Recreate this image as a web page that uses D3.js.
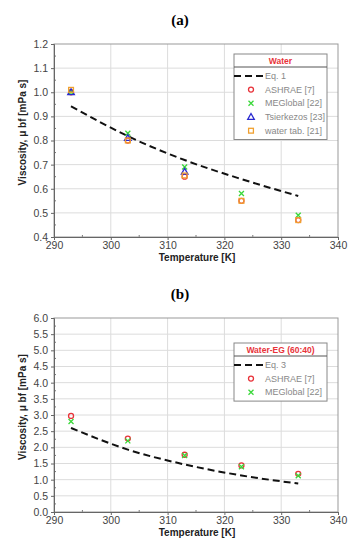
<!DOCTYPE html>
<html>
<head>
<meta charset="utf-8">
<script src="https://cdn.jsdelivr.net/npm/d3@7"></script>
<style>
  body { margin: 0; background: #fff; }
  svg { display: block; }
  .tick text { font-family: Arial, "Liberation Sans", sans-serif; font-size: 10.5px; fill: #444; }
</style>
</head>
<body>
<div id="chart"></div>
<script>
const temps = [293, 303, 313, 323, 333];

// (a) water
const waterEq1 = [0.942, 0.818, 0.719, 0.640, 0.570];
const waterAshrae = [1.00, 0.80, 0.65, 0.55, 0.47];
const waterMeg = [1.00, 0.83, 0.69, 0.58, 0.49];
const waterTsier = [1.00, 0.81, 0.67];
const waterTab = [1.01, 0.80, 0.655, 0.55, 0.47];

// (b) water-EG 60:40
const egEq3 = [2.60, 1.93, 1.47, 1.13, 0.88];
const egAshrae = [2.97, 2.27, 1.77, 1.44, 1.18];
const egMeg = [2.80, 2.20, 1.75, 1.40, 1.12];

const xTicks = [290, 300, 310, 320, 330, 340];
const yTicksA = [0.4, 0.5, 0.6, 0.7, 0.8, 0.9, 1.0, 1.1, 1.2];
const yTicksB = [0, 0.5, 1, 1.5, 2, 2.5, 3, 3.5, 4, 4.5, 5, 5.5, 6];

const W = 358, H = 550;
const svg = d3.select("#chart").append("svg")
    .attr("width", W)
    .attr("height", H);

const red = "#e8333a", green = "#3ad83a", blue = "#2a2ad0", orange = "#f0a030";

function drawPanel(opt) {
    const x = d3.scaleLinear().domain([290, 340]).range([54, 338]);
    const y = d3.scaleLinear().domain(opt.yDomain).range([opt.bottom, opt.top]);
    const g = svg.append("g");

    // panel label
    g.append("text")
        .attr("x", 180).attr("y", opt.top - 19)
        .attr("text-anchor", "middle")
        .style("font-family", "'Liberation Serif', 'Times New Roman', serif")
        .style("font-weight", "bold")
        .style("font-size", "15px")
        .text(opt.label);

    // grid
    g.append("g").selectAll("line").data(xTicks.slice(1, -1)).enter().append("line")
        .attr("x1", d => x(d)).attr("x2", d => x(d))
        .attr("y1", opt.top).attr("y2", opt.bottom)
        .attr("stroke", "#dcdcdc");
    g.append("g").selectAll("line").data(opt.yTicks.slice(1, -1)).enter().append("line")
        .attr("x1", 54).attr("x2", 338)
        .attr("y1", d => y(d)).attr("y2", d => y(d))
        .attr("stroke", "#dcdcdc");

    // minor ticks (inward)
    const xMinor = d3.range(295, 340, 10);
    g.append("g").selectAll("line").data(xMinor).enter().append("line")
        .attr("x1", d => x(d)).attr("x2", d => x(d))
        .attr("y1", opt.bottom).attr("y2", opt.bottom - 2)
        .attr("stroke", "#777");
    g.append("g").selectAll("line").data(opt.yMinor).enter().append("line")
        .attr("x1", 54).attr("x2", 56)
        .attr("y1", d => y(d)).attr("y2", d => y(d))
        .attr("stroke", "#777");

    // frame
    g.append("rect")
        .attr("x", 54).attr("y", opt.top)
        .attr("width", 284).attr("height", opt.bottom - opt.top)
        .attr("fill", "none").attr("stroke", "#999");

    const xAxis = g.append("g")
        .attr("transform", `translate(0,${opt.bottom})`)
        .call(d3.axisBottom(x).tickValues(xTicks).tickSize(3).tickPadding(2).tickFormat(d3.format("d")));
    const yAxis = g.append("g")
        .attr("transform", "translate(54,0)")
        .call(d3.axisLeft(y).tickValues(opt.yTicks).tickSize(3).tickPadding(3).tickFormat(d3.format(".1f")));
    [xAxis, yAxis].forEach(a => {
        a.select(".domain").attr("stroke", "#666");
        a.selectAll(".tick line").attr("stroke", "#666");
    });

    // axis titles
    g.append("text")
        .attr("x", 197).attr("y", opt.bottom + 24)
        .attr("text-anchor", "middle")
        .style("font-family", "Arial, 'Liberation Sans', sans-serif")
        .style("font-weight", "bold").style("font-size", "10px").attr("fill", "#222")
        .text("Temperature [K]");
    g.append("text")
        .attr("transform", `translate(26,${(opt.top + opt.bottom) / 2 - 8}) rotate(-90)`)
        .attr("text-anchor", "middle")
        .style("font-family", "Arial, 'Liberation Sans', sans-serif")
        .style("font-weight", "bold").style("font-size", "10px").attr("fill", "#222")
        .text("Viscosity, μ bf [mPa s]");

    // equation line
    const line = d3.line().x((d, i) => x(temps[i])).y(d => y(d)).curve(d3.curveMonotoneX);
    g.append("path")
        .attr("d", line(opt.eq))
        .attr("fill", "none").attr("stroke", "#111")
        .attr("stroke-width", 2).attr("stroke-dasharray", "7,4");

    // markers
    opt.series.forEach(s => {
        const pts = g.append("g");
        s.values.forEach((v, i) => {
            drawMarker(pts, s.shape, s.color, x(temps[i]), y(v));
        });
    });

    // legend
    const lx = 234, ly = opt.legendTop, lw = 93, rowH = 13.7;
    const lh = 13 + rowH * (opt.series.length + 1) + 4;
    const leg = g.append("g");
    leg.append("rect")
        .attr("x", lx).attr("y", ly).attr("width", lw).attr("height", lh)
        .attr("fill", "#fff").attr("stroke", "#888");
    leg.append("line")
        .attr("x1", lx).attr("x2", lx + lw)
        .attr("y1", ly + 13).attr("y2", ly + 13)
        .attr("stroke", "#555");
    leg.append("text")
        .attr("x", lx + lw / 2).attr("y", ly + 9.5)
        .attr("text-anchor", "middle")
        .style("font-family", "Arial, 'Liberation Sans', sans-serif")
        .style("font-weight", "bold").style("font-size", "8.5px").attr("fill", red)
        .text(opt.legendTitle);
    const items = [{ name: opt.eqName, shape: "dash" }].concat(opt.series);
    items.forEach((it, i) => {
        const cy = ly + 13 + rowH * (i + 0.65);
        if (it.shape === "dash") {
            leg.append("line")
                .attr("x1", lx).attr("x2", lx + 29)
                .attr("y1", cy).attr("y2", cy)
                .attr("stroke", "#111").attr("stroke-width", 2).attr("stroke-dasharray", "7,4");
        } else {
            drawMarker(leg, it.shape, it.color, lx + 17, cy);
        }
        leg.append("text")
            .attr("x", lx + 31).attr("y", cy + 3)
            .style("font-family", "Arial, 'Liberation Sans', sans-serif")
            .style("font-size", "9px").attr("fill", "#888")
            .text(it.name);
    });
}

function drawMarker(sel, shape, color, cx, cy) {
    if (shape === "circle") {
        sel.append("circle").attr("cx", cx).attr("cy", cy).attr("r", 2.5)
            .attr("fill", "none").attr("stroke", color).attr("stroke-width", 1.3);
    } else if (shape === "x") {
        sel.append("path")
            .attr("d", `M${cx - 2.5},${cy - 2.5}L${cx + 2.5},${cy + 2.5}M${cx - 2.5},${cy + 2.5}L${cx + 2.5},${cy - 2.5}`)
            .attr("stroke", color).attr("stroke-width", 1.3);
    } else if (shape === "tri") {
        sel.append("path")
            .attr("d", `M${cx},${cy - 3.5}L${cx + 3.3},${cy + 2.3}L${cx - 3.3},${cy + 2.3}Z`)
            .attr("fill", "none").attr("stroke", color).attr("stroke-width", 1.3);
    } else if (shape === "square") {
        sel.append("rect").attr("x", cx - 2.4).attr("y", cy - 2.4).attr("width", 4.8).attr("height", 4.8)
            .attr("fill", "none").attr("stroke", color).attr("stroke-width", 1.3);
    }
}

drawPanel({
    label: "(a)", top: 44, bottom: 237,
    yDomain: [0.4, 1.2], yTicks: yTicksA,
    yMinor: d3.range(0.45, 1.2, 0.1),
    eq: waterEq1, eqName: "Eq. 1",
    legendTitle: "Water", legendTop: 54,
    series: [
        { name: "ASHRAE [7]", shape: "circle", color: red, values: waterAshrae },
        { name: "MEGlobal [22]", shape: "x", color: green, values: waterMeg },
        { name: "Tsierkezos [23]", shape: "tri", color: blue, values: waterTsier },
        { name: "water tab. [21]", shape: "square", color: orange, values: waterTab }
    ]
});

drawPanel({
    label: "(b)", top: 318, bottom: 512,
    yDomain: [0, 6], yTicks: yTicksB,
    yMinor: d3.range(0.25, 6, 0.5),
    eq: egEq3, eqName: "Eq. 3",
    legendTitle: "Water-EG (60:40)", legendTop: 343,
    series: [
        { name: "ASHRAE [7]", shape: "circle", color: red, values: egAshrae },
        { name: "MEGlobal [22]", shape: "x", color: green, values: egMeg }
    ]
});
</script>
</body>
</html>
